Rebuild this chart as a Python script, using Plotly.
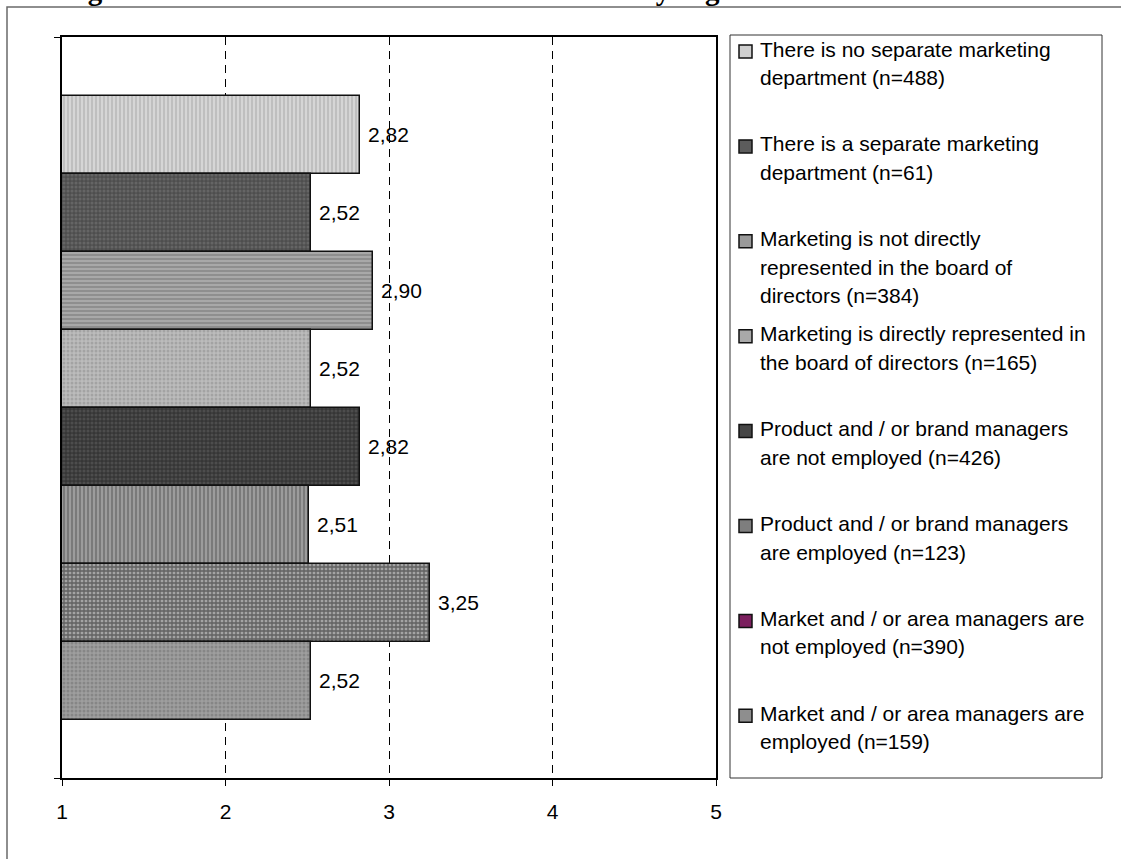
import plotly.graph_objects as go

# Mean scores per organisational group (comma decimal in labels)
groups = [
    "There is no separate marketing<br>department (n=488)",
    "There is a separate marketing<br>department (n=61)",
    "Marketing is not directly<br>represented in the board of<br>directors (n=384)",
    "Marketing is directly represented in<br>the board of directors (n=165)",
    "Product and / or brand managers<br>are not employed (n=426)",
    "Product and / or brand managers<br>are employed (n=123)",
    "Market and / or area managers are<br>not employed (n=390)",
    "Market and / or area managers are<br>employed (n=159)",
]
means = [2.82, 2.52, 2.90, 2.52, 2.82, 2.51, 3.25, 2.52]
x_ticks = [1, 2, 3, 4, 5]

# Fill styles of the bars (pattern shape, foreground, background) and legend swatches
pat_shape = ["|", ".", "-", ".", ".", "|", "+", "."]
pat_fg = ["#a4a4a4", "#7c7c7c", "#6e6e6e", "#8a8a8a", "#646464", "#505050", "#1e1e1e", "#6e6e6e"]
pat_bg = ["#d6d6d6", "#4e4e4e", "#a8a8a8", "#bcbcbc", "#363636", "#9c9c9c", "#a4a4a4", "#9e9e9e"]
pat_solid = [0.45, 0.45, 0.45, 0.45, 0.45, 0.45, 0.55, 0.45]
swatch = ["#cfcfcf", "#5c5c5c", "#9a9a9a", "#a9a9a9", "#464646", "#7e7e7e", "#7b1f5e", "#8e8e8e"]

W, H = 1121, 859
L, R, T, B = 62, 716, 37, 778          # plot area in pixels
PW, PH = R - L, B - T
FONT = "Liberation Sans, Arial, sans-serif"
FS = 21


def px_x(px):
    return (px - L) / PW


def px_y(py):
    return (B - py) / PH


n = len(means)
pad = 0.75

fig = go.Figure()
for i, v in enumerate(means):
    fig.add_trace(go.Bar(
        x=[v],
        y=[i],
        orientation="h",
        width=1.0,
        name=groups[i],
        marker=dict(
            color=pat_bg[i],
            line=dict(color="#111111", width=1.5),
            pattern=dict(shape=pat_shape[i], fgcolor=pat_fg[i],
                         fillmode="overlay", size=4, solidity=pat_solid[i]),
        ),
        showlegend=False,
        hoverinfo="skip",
    ))
    # value label next to the bar end
    fig.add_annotation(
        x=v, y=i, xref="x", yref="y",
        text=f"{v:.2f}".replace(".", ","),
        showarrow=False, xanchor="left", yanchor="middle", xshift=6,
        font=dict(family=FONT, size=FS, color="black"),
    )

# legend panel
LEG_L, LEG_R, LEG_T, LEG_B = 730, 1102, 35, 778
fig.add_shape(type="rect", xref="paper", yref="paper",
              x0=px_x(LEG_L), x1=px_x(LEG_R), y0=px_y(LEG_B), y1=px_y(LEG_T),
              line=dict(color="#333333", width=1), fillcolor="white", layer="below")

first_line = 49
step = 94.9
line_h = 28.5
for i, name in enumerate(groups):
    y0 = first_line + step * i
    fig.add_shape(type="rect", xref="paper", yref="paper",
                  x0=px_x(739), x1=px_x(752), y0=px_y(y0 + 9), y1=px_y(y0 - 4),
                  line=dict(color="#111111", width=1.5), fillcolor=swatch[i])
    for j, line in enumerate(name.split("<br>")):
        fig.add_annotation(
            x=px_x(758), y=px_y(y0 + j * line_h), xref="paper", yref="paper",
            text=line, showarrow=False, xanchor="left", yanchor="middle",
            font=dict(family=FONT, size=FS, color="black"),
        )

# outer chart frame
fig.add_shape(type="rect", xref="paper", yref="paper",
              x0=px_x(7), x1=px_x(W + 20), y0=px_y(H + 20), y1=px_y(7),
              line=dict(color="#6a6a6a", width=1.5), layer="below")

# heading above the chart frame
fig.add_annotation(
    x=px_x(60), y=px_y(8), xref="paper", yref="paper",
    text="<b>Figure 3.4: Differences in market research use by organizational structure</b>",
    showarrow=False, xanchor="left", yanchor="bottom",
    font=dict(family="Liberation Serif, Times New Roman, serif", size=29, color="black"),
)

fig.update_layout(
    width=W, height=H,
    margin=dict(l=L, r=W - R, t=T, b=H - B),
    paper_bgcolor="white",
    plot_bgcolor="white",
    bargap=0,
    barmode="overlay",
    font=dict(family=FONT, size=FS, color="black"),
    xaxis=dict(
        range=[x_ticks[0], x_ticks[-1]],
        tickvals=x_ticks,
        ticktext=[str(t) for t in x_ticks],
        ticks="outside", ticklen=6, tickwidth=1, tickcolor="black",
        ticklabelstandoff=8,
        showline=True, linecolor="black", linewidth=2, mirror=True,
        showgrid=True, gridcolor="black", gridwidth=1, griddash="8px,6px",
        zeroline=False,
        tickfont=dict(family=FONT, size=FS, color="black"),
    ),
    yaxis=dict(
        range=[n - 1 + 0.5 + pad, -0.5 - pad],
        tickvals=[-0.5 - pad, n - 1 + 0.5 + pad],
        showticklabels=False,
        ticks="outside", ticklen=6, tickwidth=1, tickcolor="black",
        showline=True, linecolor="black", linewidth=2, mirror=True,
        showgrid=False, zeroline=False,
    ),
)

fig.write_html("out.html")
